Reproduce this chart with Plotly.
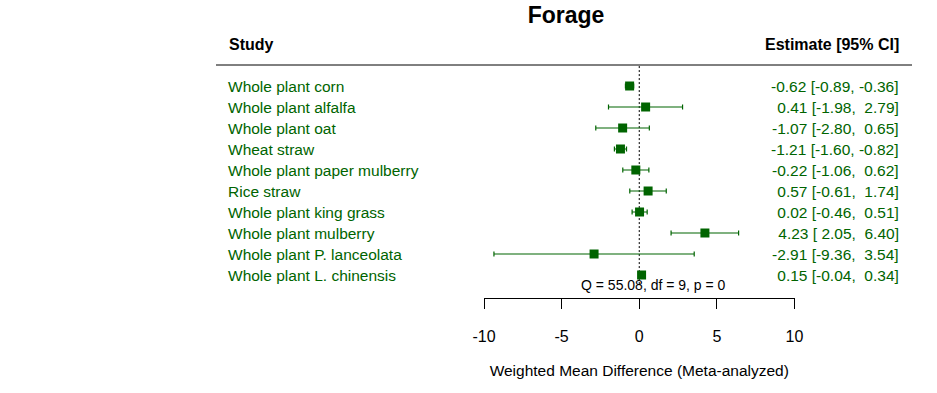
import plotly.graph_objects as go

# ---- data ----
studies = [
    "Whole plant corn",
    "Whole plant alfalfa",
    "Whole plant oat",
    "Wheat straw",
    "Whole plant paper mulberry",
    "Rice straw",
    "Whole plant king grass",
    "Whole plant mulberry",
    "Whole plant P. lanceolata",
    "Whole plant L. chinensis",
]
estimate = [-0.62, 0.41, -1.07, -1.21, -0.22, 0.57, 0.02, 4.23, -2.91, 0.15]
ci_low = [-0.89, -1.98, -2.80, -1.60, -1.06, -0.61, -0.46, 2.05, -9.36, -0.04]
ci_high = [-0.36, 2.79, 0.65, -0.82, 0.62, 1.74, 0.51, 6.40, 3.54, 0.34]
x_ticks = [-10, -5, 0, 5, 10]
title_text = "Forage"
q_text = "Q = 55.08, df = 9, p = 0"
x_title = "Weighted Mean Difference (Meta-analyzed)"

W, H = 937, 393
GREEN = "#006400"
FONT = "Liberation Sans, Arial, sans-serif"

rows = list(range(1, len(studies) + 1))


def fmt(v):
    s = f"{v:.2f}"
    if v >= 0:
        s = "\u00a0" + s
    return s


labels_right = [
    f"{fmt(e)} [{fmt(l)}, {fmt(h)}]".replace("  ", "\u00a0\u00a0")
    for e, l, h in zip(estimate, ci_low, ci_high)
]

fig = go.Figure()
fig.add_trace(
    go.Scatter(
        x=estimate,
        y=rows,
        mode="markers",
        marker=dict(symbol="square", size=9, color=GREEN, line=dict(width=0)),
        error_x=dict(
            type="data",
            symmetric=False,
            array=[h - e for h, e in zip(ci_high, estimate)],
            arrayminus=[e - l for e, l in zip(estimate, ci_low)],
            color=GREEN,
            thickness=1.2,
            width=2.5,
        ),
        cliponaxis=False,
        showlegend=False,
        hoverinfo="skip",
    )
)

annotations = []
for r, s, t in zip(rows, studies, labels_right):
    annotations.append(dict(x=226 / W, xref="paper", y=r, yref="y", text=s,
                            showarrow=False, xanchor="left", yanchor="middle",
                            font=dict(family=FONT, size=15.5, color=GREEN)))
    annotations.append(dict(x=901 / W, xref="paper", y=r, yref="y", text=t,
                            showarrow=False, xanchor="right", yanchor="middle",
                            font=dict(family=FONT, size=15.5, color=GREEN)))

annotations += [
    dict(x=227 / W, xref="paper", y=1 - 45 / H, yref="paper", text="<b>Study</b>",
         showarrow=False, xanchor="left", yanchor="middle",
         font=dict(family=FONT, size=16, color="black")),
    dict(x=901 / W, xref="paper", y=1 - 45 / H, yref="paper", text="<b>Estimate [95% CI]</b>",
         showarrow=False, xanchor="right", yanchor="middle",
         font=dict(family=FONT, size=16, color="black")),
    dict(x=579 / W, xref="paper", y=1 - 285 / H, yref="paper", text=q_text,
         showarrow=False, xanchor="left", yanchor="middle",
         font=dict(family=FONT, size=14, color="black")),
]

shapes = [
    dict(type="line", xref="paper", yref="paper", x0=216 / W, x1=912 / W,
         y0=1 - 65 / H, y1=1 - 65 / H, line=dict(color="black", width=1)),
    dict(type="line", xref="x", yref="y", x0=0, x1=0, y0=0.05, y1=10.5,
         line=dict(color="black", width=1, dash="2px,2px"), layer="below"),
]

fig.update_layout(
    width=W,
    height=H,
    margin=dict(l=0, r=0, t=0, b=0, autoexpand=False),
    paper_bgcolor="white",
    plot_bgcolor="white",
    title=dict(text=f"<b>{title_text}</b>", x=566 / W, xanchor="center",
               y=1 - 15 / H, yanchor="middle", yref="container",
               font=dict(family=FONT, size=23, color="black")),
    xaxis=dict(
        domain=[484 / W, 794.5 / W],
        range=[-10, 10],
        tickvals=x_ticks,
        ticktext=[str(v) for v in x_ticks],
        showline=True, linecolor="black", linewidth=1,
        ticks="outside", ticklen=10, tickwidth=1, tickcolor="black",
        ticklabelstandoff=14,
        showgrid=False, zeroline=False,
        automargin=False,
        tickfont=dict(family=FONT, size=16, color="black"),
        title=dict(text=x_title, standoff=20,
                   font=dict(family=FONT, size=15.5, color="black")),
        fixedrange=True,
    ),
    yaxis=dict(
        domain=[(H - 298) / H, 1],
        range=[1 + (298 - 86) / 21, 1 - 86 / 21],
        visible=False,
        automargin=False,
        fixedrange=True,
    ),
    annotations=annotations,
    shapes=shapes,
)

fig.write_html(
    "out.html",
    post_script="document.body.style.margin='0';document.body.style.padding='0';",
    config={"displayModeBar": False},
)
